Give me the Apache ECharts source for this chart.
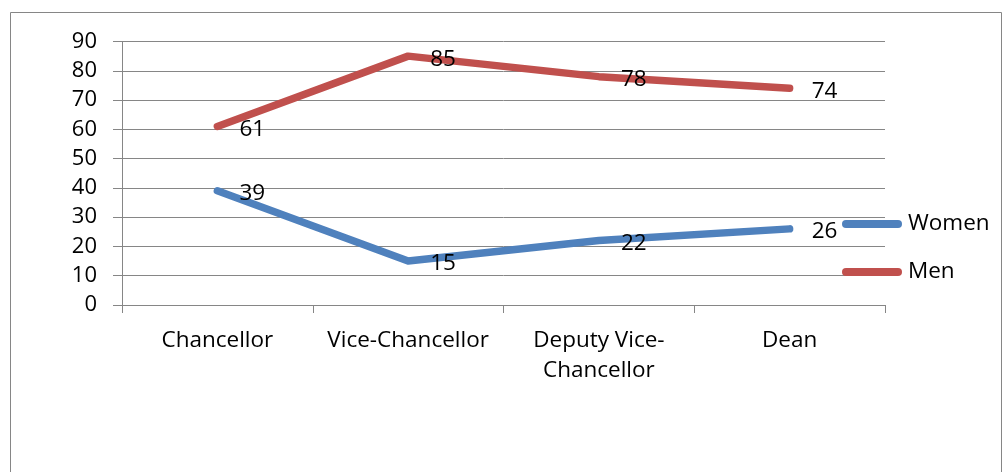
<!DOCTYPE html>
<html>
<head>
<meta charset="utf-8">
<script src="https://cdn.jsdelivr.net/npm/echarts@6/dist/echarts.min.js"></script>
<style>
html,body{margin:0;padding:0;background:#fff;}
#c{width:1003px;height:472px;}
</style>
</head>
<body>
<div id="c"></div>
<script>
var categories = ['Chancellor', 'Vice-Chancellor', 'Deputy Vice-\nChancellor', 'Dean'];
var women = [39, 15, 22, 26];
var men = [61, 85, 78, 74];
var seriesNames = ['Women', 'Men'];
var yTicks = {min: 0, max: 90, interval: 10};

var FONT = '"Open Sans"';
var chart = echarts.init(document.getElementById('c'), null, {renderer: 'canvas'});
var capsule = 'path://M4,0 H56 A4,4 0 0 1 56,8 H4 A4,4 0 0 1 4,0 Z';
function lineSeries(name, data, color) {
  return {
    name: name,
    type: 'line',
    data: data,
    symbol: 'circle',
    symbolSize: 0.1,
    showSymbol: true,
    itemStyle: {color: color},
    lineStyle: {color: color, width: 7.5, cap: 'round', join: 'round'},
    label: {show: true, position: 'right', distance: 22, offset: [0, 3], color: '#000', fontSize: 22.5, fontFamily: FONT},
    emphasis: {disabled: true},
    animation: false
  };
}
chart.setOption({
  animation: false,
  backgroundColor: '#fff',
  grid: {left: 122, right: 118, top: 41.5, bottom: 167, containLabel: false},
  legend: {
    orient: 'vertical',
    left: 842,
    top: 211,
    padding: 0,
    itemWidth: 62,
    itemHeight: 8,
    itemGap: 22,
    icon: capsule,
    data: [
      {name: seriesNames[0], itemStyle: {color: '#4F81BD'}},
      {name: seriesNames[1], itemStyle: {color: '#C0504D'}}
    ],
    textStyle: {color: '#000', fontSize: 22.5, fontFamily: FONT, lineHeight: 26}
  },
  xAxis: {
    type: 'category',
    data: categories,
    boundaryGap: true,
    axisLine: {lineStyle: {color: '#868686', width: 1}},
    axisTick: {show: true, length: 8, lineStyle: {color: '#868686'}},
    axisLabel: {color: '#000', fontSize: 22.5, fontFamily: FONT, margin: 21, lineHeight: 30, interval: 0}
  },
  yAxis: {
    type: 'value',
    min: yTicks.min, max: yTicks.max, interval: yTicks.interval,
    axisLine: {show: true, lineStyle: {color: '#868686', width: 1}},
    axisTick: {show: true, length: 9, lineStyle: {color: '#868686'}},
    splitLine: {show: true, lineStyle: {color: '#868686', width: 1}},
    axisLabel: {color: '#000', fontSize: 22, fontFamily: FONT, margin: 25}
  },
  graphic: [{
    type: 'rect',
    shape: {x: 10.5, y: 12.5, width: 991, height: 480},
    style: {fill: 'none', stroke: '#868686', lineWidth: 1},
    silent: true,
    z: -1
  }],
  series: [
    lineSeries(seriesNames[0], women, '#4F81BD'),
    lineSeries(seriesNames[1], men, '#C0504D')
  ]
});
</script>
</body>
</html>
